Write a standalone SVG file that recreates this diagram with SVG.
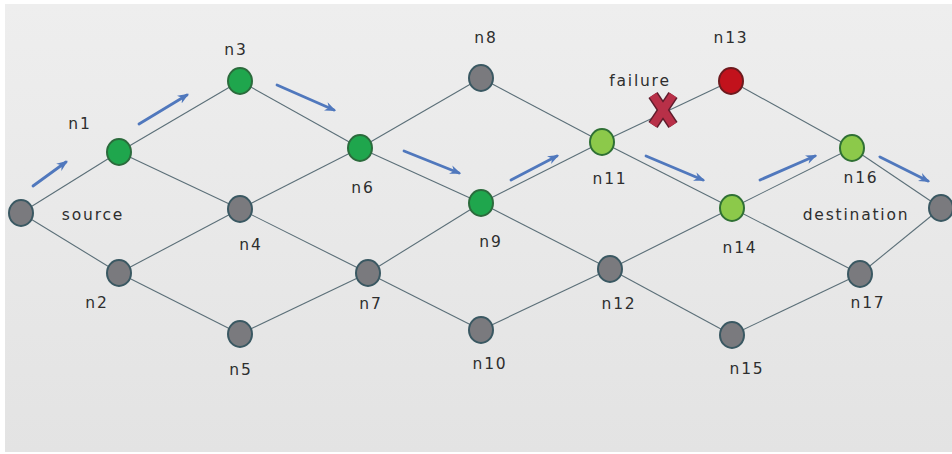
<svg xmlns="http://www.w3.org/2000/svg" width="952" height="454" viewBox="0 0 952 454">
<defs>
<linearGradient id="bg" x1="0" y1="0" x2="0" y2="1">
<stop offset="0" stop-color="#eeeeee"/>
<stop offset="1" stop-color="#e3e3e3"/>
</linearGradient>
<marker id="ah" viewBox="0 0 10 10" refX="8" refY="5" markerWidth="4" markerHeight="4" orient="auto" markerUnits="strokeWidth">
<path d="M0,1 L10,5 L0,9 L3,5 Z" fill="#5078bd"/>
</marker>
<style>
.e{stroke:#5b6f78;stroke-width:1.1;fill:none}
.a{stroke:#5078bd;stroke-width:2.8;fill:none;marker-end:url(#ah);stroke-linecap:round}
.g{fill:#1fa64d;stroke:#2b6b3c;stroke-width:2}
.lg{fill:#8cc94a;stroke:#2f7034;stroke-width:2}
.gr{fill:#7a7a7e;stroke:#3a5862;stroke-width:2}
.r{fill:#c2121c;stroke:#6e1a1e;stroke-width:2}
text{font-family:"DejaVu Sans","Verdana",sans-serif;font-size:15.5px;fill:#2e2e2e;letter-spacing:1.8px;text-anchor:middle}
</style>
</defs>
<rect x="0" y="0" width="952" height="454" fill="#ffffff"/>
<rect x="5" y="4" width="947" height="448" fill="url(#bg)"/>
<g id="connectors">
<line class="e" x1="21" y1="213" x2="119" y2="152"/>
<line class="e" x1="21" y1="213" x2="119" y2="273"/>
<line class="e" x1="119" y1="152" x2="240" y2="81"/>
<line class="e" x1="119" y1="152" x2="240" y2="209"/>
<line class="e" x1="119" y1="273" x2="240" y2="209"/>
<line class="e" x1="119" y1="273" x2="240" y2="334"/>
<line class="e" x1="240" y1="81" x2="360" y2="148"/>
<line class="e" x1="240" y1="209" x2="360" y2="148"/>
<line class="e" x1="240" y1="209" x2="368" y2="273"/>
<line class="e" x1="240" y1="334" x2="368" y2="273"/>
<line class="e" x1="360" y1="148" x2="481" y2="78"/>
<line class="e" x1="360" y1="148" x2="481" y2="203"/>
<line class="e" x1="368" y1="273" x2="481" y2="203"/>
<line class="e" x1="368" y1="273" x2="481" y2="330"/>
<line class="e" x1="481" y1="78" x2="602" y2="142"/>
<line class="e" x1="481" y1="203" x2="602" y2="142"/>
<line class="e" x1="481" y1="203" x2="610" y2="269"/>
<line class="e" x1="481" y1="330" x2="610" y2="269"/>
<line class="e" x1="602" y1="142" x2="731" y2="81"/>
<line class="e" x1="602" y1="142" x2="732" y2="208"/>
<line class="e" x1="610" y1="269" x2="732" y2="208"/>
<line class="e" x1="610" y1="269" x2="732" y2="335"/>
<line class="e" x1="731" y1="81" x2="852" y2="148"/>
<line class="e" x1="732" y1="208" x2="852" y2="148"/>
<line class="e" x1="732" y1="208" x2="860" y2="274"/>
<line class="e" x1="732" y1="335" x2="860" y2="274"/>
<line class="e" x1="852" y1="148" x2="941" y2="208"/>
<line class="e" x1="860" y1="274" x2="941" y2="208"/>
<line class="a" x1="33" y1="186" x2="66" y2="162"/>
<line class="a" x1="139" y1="124" x2="187" y2="95"/>
<line class="a" x1="277" y1="85" x2="334" y2="110"/>
<line class="a" x1="404" y1="151" x2="459" y2="173"/>
<line class="a" x1="511" y1="180" x2="557" y2="156"/>
<line class="a" x1="646" y1="156" x2="703" y2="180"/>
<line class="a" x1="760" y1="180" x2="815" y2="156"/>
<line class="a" x1="880" y1="157" x2="928" y2="181"/>
</g>
<g id="failure-mark">
<line x1="653" y1="95" x2="673" y2="125" stroke="#5e1c2c" stroke-width="11"/>
<line x1="673" y1="95" x2="653" y2="125" stroke="#5e1c2c" stroke-width="11"/>
<line x1="653" y1="95" x2="673" y2="125" stroke="#b83048" stroke-width="8"/>
<line x1="673" y1="95" x2="653" y2="125" stroke="#b83048" stroke-width="8"/>
<text x="640" y="86">failure</text>
</g>
<g id="source"><ellipse class="gr" cx="21" cy="213" rx="12" ry="13"/><text x="93" y="220">source</text></g>
<g id="n1"><ellipse class="g" cx="119" cy="152" rx="12" ry="13"/><text x="80" y="129">n1</text></g>
<g id="n2"><ellipse class="gr" cx="119" cy="273" rx="12" ry="13"/><text x="97" y="308">n2</text></g>
<g id="n3"><ellipse class="g" cx="240" cy="81" rx="12" ry="13"/><text x="236" y="55">n3</text></g>
<g id="n4"><ellipse class="gr" cx="240" cy="209" rx="12" ry="13"/><text x="251" y="250">n4</text></g>
<g id="n5"><ellipse class="gr" cx="240" cy="334" rx="12" ry="13"/><text x="241" y="375">n5</text></g>
<g id="n6"><ellipse class="g" cx="360" cy="148" rx="12" ry="13"/><text x="363" y="193">n6</text></g>
<g id="n7"><ellipse class="gr" cx="368" cy="273" rx="12" ry="13"/><text x="371" y="309">n7</text></g>
<g id="n8"><ellipse class="gr" cx="481" cy="78" rx="12" ry="13"/><text x="486" y="43">n8</text></g>
<g id="n9"><ellipse class="g" cx="481" cy="203" rx="12" ry="13"/><text x="491" y="247">n9</text></g>
<g id="n10"><ellipse class="gr" cx="481" cy="330" rx="12" ry="13"/><text x="490" y="369">n10</text></g>
<g id="n11"><ellipse class="lg" cx="602" cy="142" rx="12" ry="13"/><text x="610" y="184">n11</text></g>
<g id="n12"><ellipse class="gr" cx="610" cy="269" rx="12" ry="13"/><text x="619" y="309">n12</text></g>
<g id="n13"><ellipse class="r" cx="731" cy="81" rx="12" ry="13"/><text x="731" y="43">n13</text></g>
<g id="n14"><ellipse class="lg" cx="732" cy="208" rx="12" ry="13"/><text x="740" y="253">n14</text></g>
<g id="n15"><ellipse class="gr" cx="732" cy="335" rx="12" ry="13"/><text x="747" y="374">n15</text></g>
<g id="n16"><ellipse class="lg" cx="852" cy="148" rx="12" ry="13"/><text x="861" y="183">n16</text></g>
<g id="n17"><ellipse class="gr" cx="860" cy="274" rx="12" ry="13"/><text x="868" y="308">n17</text></g>
<g id="destination"><ellipse class="gr" cx="941" cy="208" rx="12" ry="13"/><text x="856" y="220">destination</text></g>
</svg>
